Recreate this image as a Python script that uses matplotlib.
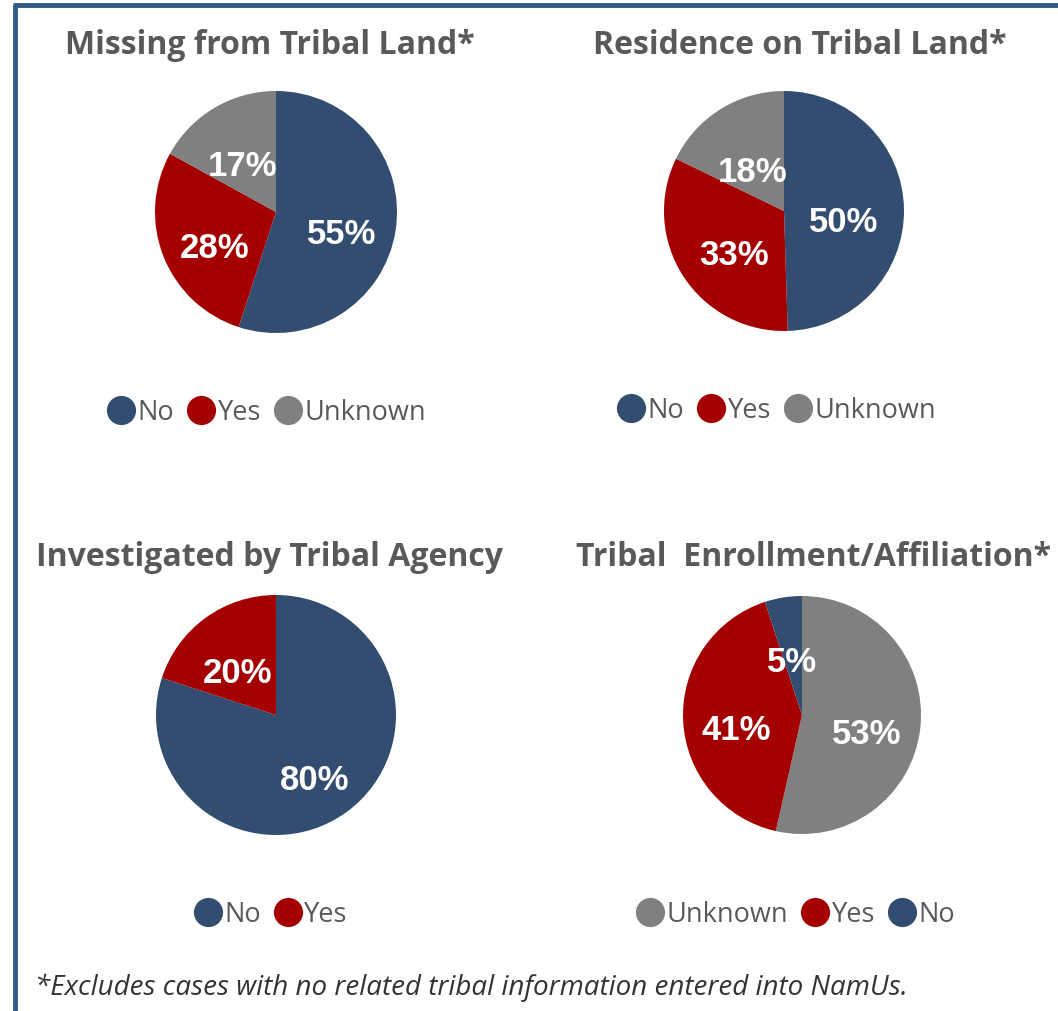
import matplotlib
matplotlib.use("Agg")
import matplotlib.pyplot as plt
from matplotlib.lines import Line2D

# ---------------- data ----------------
titles = ["Missing from Tribal Land*", "Residence on Tribal Land*",
          "Investigated by Tribal Agency", "Tribal  Enrollment/Affiliation*"]

labels_1 = ["No", "Yes", "Unknown"]
values_1 = [55, 28, 17]
labels_2 = ["No", "Yes", "Unknown"]
values_2 = [50, 33, 18]
labels_3 = ["No", "Yes"]
values_3 = [80, 20]
labels_4 = ["Unknown", "Yes", "No"]
values_4 = [53, 41, 5]

footnote = "*Excludes cases with no related tribal information entered into NamUs."

color_map = {"No": "#334d70", "Yes": "#a50000", "Unknown": "#808080"}

# ---------------- layout ----------------
W, H = 1058, 1012
fig = plt.figure(figsize=(W / 100, H / 100), dpi=100)
fig.patch.set_facecolor("white")

def fx(x):
    return x / W

def fy(y):
    return 1 - y / H

panels = [
    dict(labels=labels_1, values=values_1, title=titles[0], c=(276, 213), r=121,
         tpos=(270, 45), lpos=(267, 413), pd=0.55),
    dict(labels=labels_2, values=values_2, title=titles[1], c=(784, 212), r=120,
         tpos=(800, 45), lpos=(777, 411), pd=0.5),
    dict(labels=labels_3, values=values_3, title=titles[2], c=(276, 716), r=120,
         tpos=(269, 557), lpos=(271, 915), pd=0.55),
    dict(labels=labels_4, values=values_4, title=titles[3], c=(802, 716), r=119,
         tpos=(814, 557), lpos=(796, 915), pd=0.55),
]

title_font = dict(family="Open Sans", weight="bold", size=23, color="#595959")

for p in panels:
    cx, cy = p["c"]
    r = p["r"]
    ax = fig.add_axes([fx(cx - r), fy(cy + r), 2 * r / W, 2 * r / H])
    cols = [color_map[l] for l in p["labels"]]
    wedges, texts, autotexts = ax.pie(
        p["values"], colors=cols, startangle=90, counterclock=False,
        autopct="%d", pctdistance=p["pd"], radius=1,
        wedgeprops=dict(linewidth=0))
    for t, v in zip(autotexts, p["values"]):
        t.set_text(f"{v}%")
        t.set_fontfamily("Liberation Sans")
        t.set_fontweight("bold")
        t.set_fontsize(25)
        t.set_color("white")
        x0, y0 = t.get_position()
        t.set_position((x0, y0 - 11 / r))
    ax.set_xlim(-1, 1)
    ax.set_ylim(-1, 1)
    ax.set_aspect("equal")
    ax.axis("off")

    fig.text(fx(p["tpos"][0]), fy(p["tpos"][1]), p["title"], ha="center", va="center",
             **title_font)

    handles = [Line2D([], [], marker="o", linestyle="none", markersize=21,
                      markerfacecolor=color_map[l], markeredgewidth=0)
               for l in p["labels"]]
    leg = fig.legend(handles, p["labels"], loc="center",
                     bbox_to_anchor=(fx(p["lpos"][0]), fy(p["lpos"][1])),
                     ncol=len(p["labels"]), frameon=False, handlelength=1.0,
                     handletextpad=0.1, columnspacing=0.5,
                     prop=dict(family="Open Sans", size=19.5))
    for t in leg.get_texts():
        t.set_color("#595959")

fig.text(fx(35), fy(988), footnote, ha="left", va="center", family="Open Sans",
         style="italic", size=20, color="#333333")

# frame lines (left and top)
fig.add_artist(Line2D([fx(15), fx(15)], [fy(6), 0], transform=fig.transFigure,
                      color="#2f5a85", linewidth=3.5, solid_capstyle="butt"))
fig.add_artist(Line2D([fx(13.3), 1], [fy(6), fy(6)], transform=fig.transFigure,
                      color="#2f5a85", linewidth=3.5, solid_capstyle="butt"))

fig.savefig("out.png", dpi=100)
